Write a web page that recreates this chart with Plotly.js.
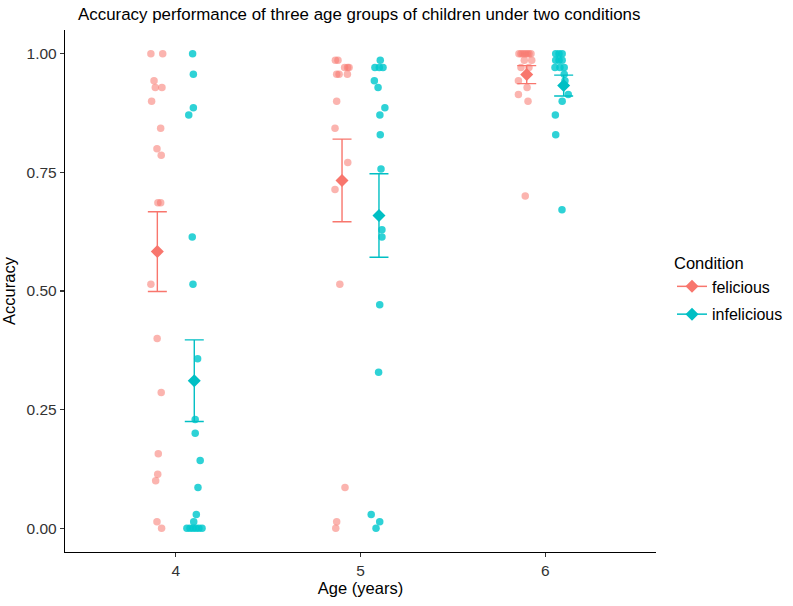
<!DOCTYPE html>
<html>
<head>
<meta charset="utf-8">
<script src="https://cdn.plot.ly/plotly-3.0.1.min.js"></script>
<style>
  html, body { margin: 0; padding: 0; background: #fff; }
  #chart { width: 793px; height: 606px; }
</style>
</head>
<body>
<div id="chart"></div>
<script>
// Age groups (years) and the two sentence conditions
const ages = [4, 5, 6];
const conditions = ['felicious', 'infelicious'];

// Proportion correct for each child, by age group and condition
const felicious4 = [1.000, 1.000, 0.943, 0.929, 0.929, 0.900, 0.843, 0.800, 0.786, 0.686, 0.686, 0.514, 0.400, 0.286, 0.157, 0.114, 0.100, 0.014, 0.000];
const infelicious4 = [1.000, 0.957, 0.886, 0.871, 0.614, 0.514, 0.357, 0.229, 0.200, 0.143, 0.086, 0.029, 0.014, 0.000, 0.000, 0.000, 0.000, 0.000, 0.000];
const felicious5 = [0.986, 0.986, 0.971, 0.971, 0.971, 0.957, 0.957, 0.957, 0.900, 0.843, 0.771, 0.714, 0.514, 0.086, 0.014, 0.000];
const infelicious5 = [0.986, 0.971, 0.971, 0.971, 0.943, 0.929, 0.886, 0.871, 0.829, 0.757, 0.629, 0.614, 0.471, 0.329, 0.029, 0.014, 0.000];
const felicious6 = [1.000, 1.000, 1.000, 1.000, 1.000, 1.000, 1.000, 0.986, 0.986, 0.971, 0.971, 0.943, 0.929, 0.914, 0.900, 0.700];
const infelicious6 = [1.000, 1.000, 1.000, 0.986, 0.986, 0.986, 0.971, 0.971, 0.971, 0.957, 0.943, 0.914, 0.900, 0.871, 0.829, 0.671];

// Group means and standard errors
const feliciousMean = [0.583, 0.733, 0.956];
const feliciousSE = [0.084, 0.087, 0.019];
const infeliciousMean = [0.311, 0.659, 0.933];
const infeliciousSE = [0.086, 0.088, 0.022];

// Horizontal jitter of each child's point (axis units), same order as the scores
const jitterFel4 = [-0.035, 0.029, -0.018, -0.011, 0.025, -0.031, 0.018, -0.002, 0.021, 0.003, 0.018, -0.035, -0.001, 0.021, 0.005, 0.002, -0.009, -0.002, 0.023];
const jitterInf4 = [-0.009, -0.005, -0.005, -0.030, -0.011, -0.007, 0.018, 0.005, 0.005, 0.032, 0.020, 0.011, -0.003, -0.040, -0.023, -0.007, 0.009, 0.025, 0.042];
const jitterFel5 = [-0.036, -0.022, 0.014, 0.030, 0.038, -0.029, -0.016, 0.029, -0.029, -0.038, 0.031, -0.038, -0.012, 0.016, -0.029, -0.034];
const jitterInf5 = [0.007, -0.022, 0.002, 0.022, -0.025, -0.005, 0.032, 0.005, 0.007, 0.011, 0.016, 0.016, 0.004, -0.002, -0.042, 0.004, -0.016];
const jitterFel6 = [-0.042, -0.031, -0.020, -0.009, 0.002, 0.012, 0.023, -0.013, 0.027, -0.031, 0.012, -0.045, 0.002, -0.045, 0.007, -0.008];
const jitterInf6 = [-0.043, -0.025, -0.008, -0.043, -0.025, -0.008, -0.047, -0.020, 0.003, 0.003, 0.007, 0.025, -0.008, -0.045, -0.043, -0.009];

const DODGE = 0.1;
const COL_FEL = '#F8766D';
const COL_INF = '#00BFC4';
const FONT = 'Liberation Sans, Arial, sans-serif';

function pointsFor(groups, jitters, offset) {
  const x = [], y = [];
  groups.forEach((vals, i) => {
    vals.forEach((v, j) => {
      x.push(ages[i] + offset + jitters[i][j]);
      y.push(v);
    });
  });
  return { x, y };
}

// Means separated by gaps so the legend key keeps its line but no line joins the means
function meansFor(means, ses, offset) {
  const x = [], y = [], e = [];
  means.forEach((m, i) => {
    if (i > 0) { x.push(null); y.push(null); e.push(null); }
    x.push(ages[i] + offset); y.push(m); e.push(ses[i]);
  });
  return { x, y, e };
}

const pf = pointsFor([felicious4, felicious5, felicious6], [jitterFel4, jitterFel5, jitterFel6], -DODGE);
const pi = pointsFor([infelicious4, infelicious5, infelicious6], [jitterInf4, jitterInf5, jitterInf6], DODGE);
const mf = meansFor(feliciousMean, feliciousSE, -DODGE);
const mi = meansFor(infeliciousMean, infeliciousSE, DODGE);

const traces = [
  {
    type: 'scatter', mode: 'markers', x: pf.x, y: pf.y, showlegend: false, hoverinfo: 'y',
    legendgroup: 'fel',
    marker: { size: 7.5, color: 'rgba(248,118,109,0.55)', line: { width: 0 } }
  },
  {
    type: 'scatter', mode: 'markers', x: pi.x, y: pi.y, showlegend: false, hoverinfo: 'y',
    legendgroup: 'inf',
    marker: { size: 7.5, color: 'rgba(0,200,205,0.82)', line: { width: 0 } }
  },
  {
    type: 'scatter', mode: 'lines+markers', name: conditions[0], connectgaps: false,
    legendgroup: 'fel',
    x: mf.x, y: mf.y,
    line: { color: COL_FEL, width: 1.5 },
    marker: { symbol: 'diamond', size: 10, color: COL_FEL },
    error_y: { type: 'data', array: mf.e, visible: true, color: COL_FEL, thickness: 1.4, width: 9.5 }
  },
  {
    type: 'scatter', mode: 'lines+markers', name: conditions[1], connectgaps: false,
    legendgroup: 'inf',
    x: mi.x, y: mi.y,
    line: { color: COL_INF, width: 1.5 },
    marker: { symbol: 'diamond', size: 10, color: COL_INF },
    error_y: { type: 'data', array: mi.e, visible: true, color: COL_INF, thickness: 1.4, width: 9.5 }
  }
];

const tickFont = { family: FONT, size: 15.5, color: '#333333' };
const axisTitleFont = { family: FONT, size: 16.5, color: '#000000' };

const layout = {
  width: 793, height: 606,
  paper_bgcolor: '#ffffff', plot_bgcolor: '#ffffff',
  margin: { l: 65, r: 137, t: 30, b: 54 },
  font: { family: FONT, color: '#000' },
  title: {
    text: 'Accuracy performance of three age groups of children under two conditions',
    font: { family: FONT, size: 16.9, color: '#000' },
    x: 78 / 793, xref: 'container', xanchor: 'left',
    y: 1 - 14 / 606, yref: 'container', yanchor: 'middle'
  },
  xaxis: {
    range: [3.4, 6.6], tickvals: ages, ticktext: ages.map(String),
    showgrid: false, zeroline: false, showline: true, linecolor: '#000', linewidth: 1.2,
    ticks: 'outside', ticklen: 4, tickcolor: '#333', tickwidth: 1.1,
    tickfont: tickFont, automargin: false,
    title: { text: 'Age (years)', font: axisTitleFont, standoff: 4 }
  },
  yaxis: {
    range: [-0.05, 1.05], tickvals: [0, 0.25, 0.5, 0.75, 1], tickformat: '.2f',
    showgrid: false, zeroline: false, showline: true, linecolor: '#000', linewidth: 1.2,
    ticks: 'outside', ticklen: 4, tickcolor: '#333', tickwidth: 1.1,
    tickfont: tickFont, automargin: false,
    title: { text: 'Accuracy', font: axisTitleFont, standoff: 6 }
  },
  legend: {
    xref: 'container', yref: 'container',
    x: 672 / 793, xanchor: 'left', y: 1 - 290 / 606, yanchor: 'middle',
    bgcolor: 'rgba(0,0,0,0)', borderwidth: 0,
    font: { family: FONT, size: 16, color: '#000' },
    title: { text: 'Condition', font: { family: FONT, size: 16.5, color: '#000' } },
    tracegroupgap: 4, traceorder: 'grouped'
  },
  showlegend: true
};

Plotly.newPlot('chart', traces, layout, { displayModeBar: false, staticPlot: true });
</script>
</body>
</html>
